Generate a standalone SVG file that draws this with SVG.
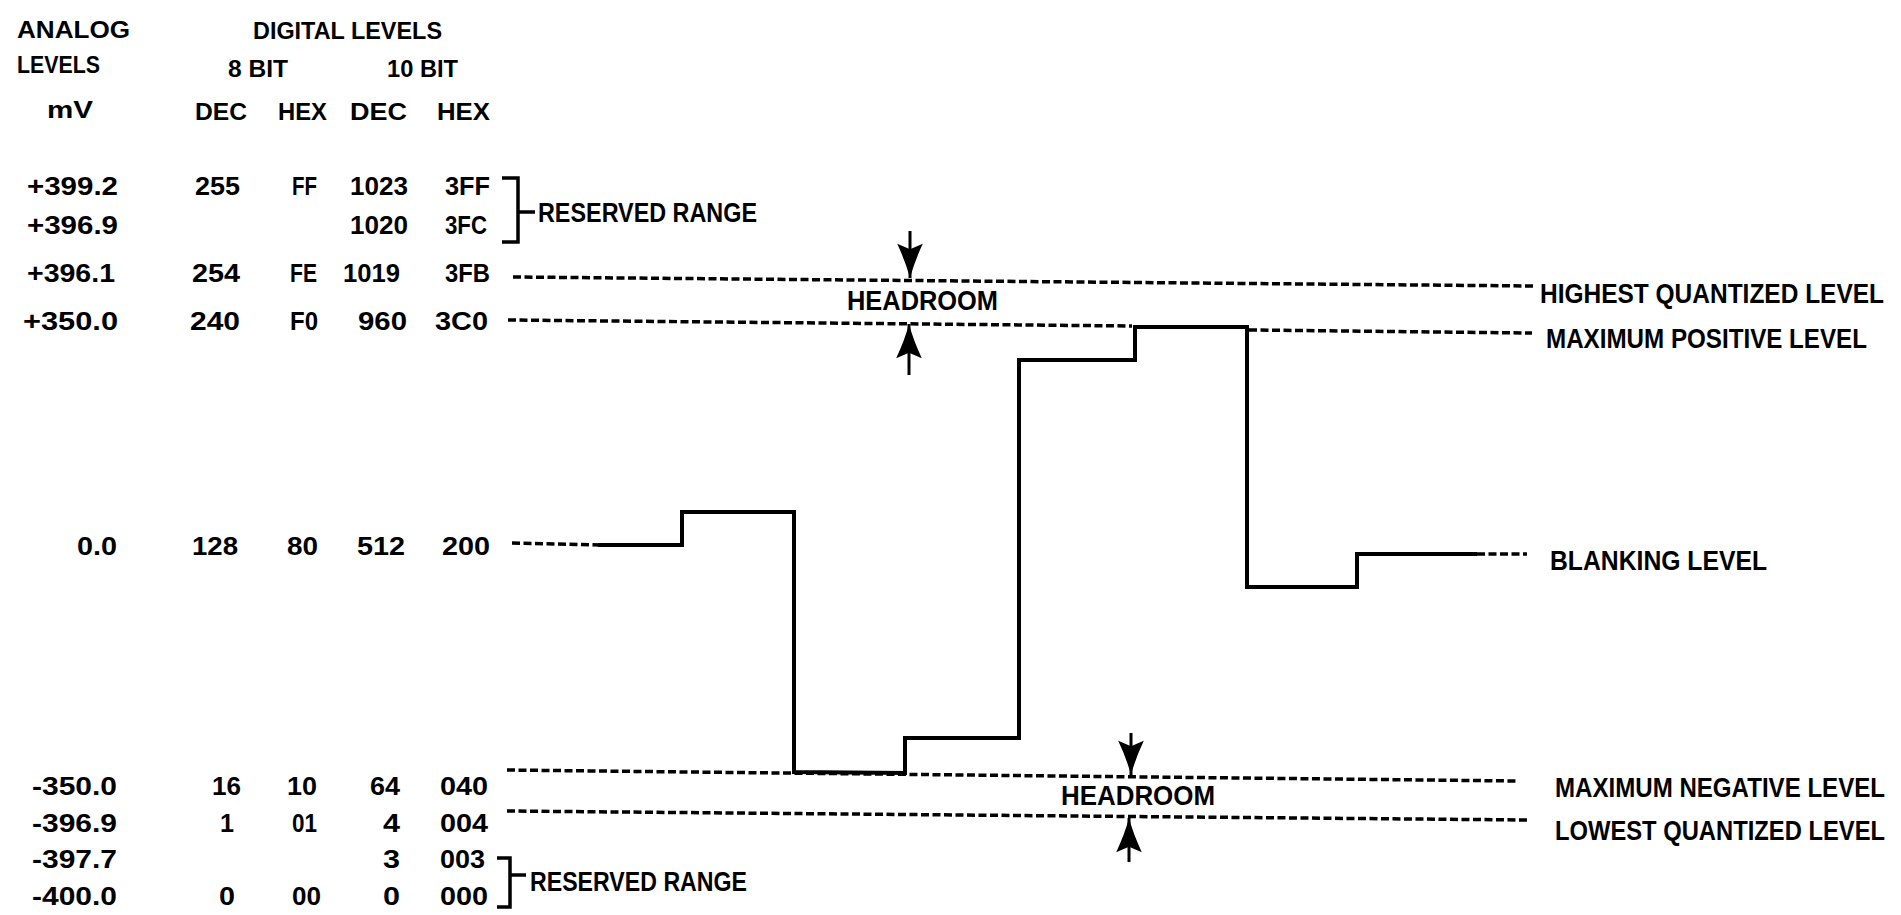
<svg xmlns="http://www.w3.org/2000/svg" width="1901" height="915" viewBox="0 0 1901 915">
<defs>
<style>
text{font-family:"Liberation Sans",Arial,sans-serif;fill:#000}
.h{font-size:23px;font-weight:bold}
.t{font-size:26px;font-weight:bold}
.l{font-size:27px;font-weight:bold}
.lab{font-size:24px;font-weight:bold}
.dash{fill:none;stroke:#000;stroke-width:3.5;stroke-dasharray:8 3.5}
.wave{fill:none;stroke:#000;stroke-width:4;stroke-linejoin:miter}
.br{fill:none;stroke:#000;stroke-width:3.5}
.shaft{fill:none;stroke:#000;stroke-width:3;marker-end:url(#ah)}
</style>
<marker id="ah" markerUnits="userSpaceOnUse" markerWidth="40" markerHeight="32" viewBox="-34 -15 36 30" refX="0" refY="0" orient="auto">
<path d="M0,0 Q-15,-4 -32,-12 L-27,0 L-32,12 Q-15,4 0,0 Z" fill="#000"/>
</marker>
</defs>
<rect width="1901" height="915" fill="#fff"/>

<g id="header">
<text class="h" x="17" y="38" textLength="113" lengthAdjust="spacingAndGlyphs">ANALOG</text>
<text class="h" x="17" y="73" textLength="83" lengthAdjust="spacingAndGlyphs">LEVELS</text>
<text class="h" x="47" y="118" textLength="46" lengthAdjust="spacingAndGlyphs">mV</text>
<text class="h" x="253" y="39" textLength="189" lengthAdjust="spacingAndGlyphs">DIGITAL LEVELS</text>
<text class="h" x="228" y="77" textLength="60" lengthAdjust="spacingAndGlyphs">8 BIT</text>
<text class="h" x="387" y="77" textLength="71" lengthAdjust="spacingAndGlyphs">10 BIT</text>
<text class="h" x="195" y="120" textLength="52" lengthAdjust="spacingAndGlyphs">DEC</text>
<text class="h" x="278" y="120" textLength="49" lengthAdjust="spacingAndGlyphs">HEX</text>
<text class="h" x="350" y="120" textLength="57" lengthAdjust="spacingAndGlyphs">DEC</text>
<text class="h" x="437" y="120" textLength="53" lengthAdjust="spacingAndGlyphs">HEX</text>
</g>

<g id="row-3FF">
<text class="t" x="27" y="195" textLength="91" lengthAdjust="spacingAndGlyphs">+399.2</text>
<text class="t" x="195" y="195" textLength="45" lengthAdjust="spacingAndGlyphs">255</text>
<text class="t" x="292" y="195" textLength="25" lengthAdjust="spacingAndGlyphs">FF</text>
<text class="t" x="350" y="195" textLength="58" lengthAdjust="spacingAndGlyphs">1023</text>
<text class="t" x="445" y="195" textLength="45" lengthAdjust="spacingAndGlyphs">3FF</text>
</g>
<g id="row-3FC">
<text class="t" x="27" y="234" textLength="91" lengthAdjust="spacingAndGlyphs">+396.9</text>
<text class="t" x="350" y="234" textLength="58" lengthAdjust="spacingAndGlyphs">1020</text>
<text class="t" x="445" y="234" textLength="42" lengthAdjust="spacingAndGlyphs">3FC</text>
</g>
<g id="row-3FB">
<text class="t" x="27" y="282" textLength="88" lengthAdjust="spacingAndGlyphs">+396.1</text>
<text class="t" x="192" y="282" textLength="48" lengthAdjust="spacingAndGlyphs">254</text>
<text class="t" x="290" y="282" textLength="27" lengthAdjust="spacingAndGlyphs">FE</text>
<text class="t" x="343" y="282" textLength="57" lengthAdjust="spacingAndGlyphs">1019</text>
<text class="t" x="445" y="282" textLength="45" lengthAdjust="spacingAndGlyphs">3FB</text>
</g>
<g id="row-3C0">
<text class="t" x="23" y="330" textLength="95" lengthAdjust="spacingAndGlyphs">+350.0</text>
<text class="t" x="190" y="330" textLength="50" lengthAdjust="spacingAndGlyphs">240</text>
<text class="t" x="290" y="330" textLength="28" lengthAdjust="spacingAndGlyphs">F0</text>
<text class="t" x="358" y="330" textLength="49" lengthAdjust="spacingAndGlyphs">960</text>
<text class="t" x="435" y="330" textLength="53" lengthAdjust="spacingAndGlyphs">3C0</text>
</g>
<g id="row-200">
<text class="t" x="77" y="555" textLength="40" lengthAdjust="spacingAndGlyphs">0.0</text>
<text class="t" x="192" y="555" textLength="46" lengthAdjust="spacingAndGlyphs">128</text>
<text class="t" x="287" y="555" textLength="31" lengthAdjust="spacingAndGlyphs">80</text>
<text class="t" x="357" y="555" textLength="48" lengthAdjust="spacingAndGlyphs">512</text>
<text class="t" x="442" y="555" textLength="48" lengthAdjust="spacingAndGlyphs">200</text>
</g>
<g id="row-040">
<text class="t" x="32" y="795" textLength="85" lengthAdjust="spacingAndGlyphs">-350.0</text>
<text class="t" x="212" y="795" textLength="29" lengthAdjust="spacingAndGlyphs">16</text>
<text class="t" x="287" y="795" textLength="30" lengthAdjust="spacingAndGlyphs">10</text>
<text class="t" x="370" y="795" textLength="30" lengthAdjust="spacingAndGlyphs">64</text>
<text class="t" x="440" y="795" textLength="48" lengthAdjust="spacingAndGlyphs">040</text>
</g>
<g id="row-004">
<text class="t" x="32" y="832" textLength="85" lengthAdjust="spacingAndGlyphs">-396.9</text>
<text class="t" x="220" y="832" textLength="14" lengthAdjust="spacingAndGlyphs">1</text>
<text class="t" x="292" y="832" textLength="25" lengthAdjust="spacingAndGlyphs">01</text>
<text class="t" x="383" y="832" textLength="17" lengthAdjust="spacingAndGlyphs">4</text>
<text class="t" x="440" y="832" textLength="48" lengthAdjust="spacingAndGlyphs">004</text>
</g>
<g id="row-003">
<text class="t" x="32" y="868" textLength="85" lengthAdjust="spacingAndGlyphs">-397.7</text>
<text class="t" x="383" y="868" textLength="17" lengthAdjust="spacingAndGlyphs">3</text>
<text class="t" x="440" y="868" textLength="45" lengthAdjust="spacingAndGlyphs">003</text>
</g>
<g id="row-000">
<text class="t" x="32" y="905" textLength="85" lengthAdjust="spacingAndGlyphs">-400.0</text>
<text class="t" x="219" y="905" textLength="16" lengthAdjust="spacingAndGlyphs">0</text>
<text class="t" x="292" y="905" textLength="29" lengthAdjust="spacingAndGlyphs">00</text>
<text class="t" x="383" y="905" textLength="17" lengthAdjust="spacingAndGlyphs">0</text>
<text class="t" x="440" y="905" textLength="48" lengthAdjust="spacingAndGlyphs">000</text>
</g>

<g id="reserved-upper">
<path class="br" d="M502,178 L518,178 L518,242 L502,242 M518,212 L535,212"/>
<text class="l" x="538" y="222" textLength="219" lengthAdjust="spacingAndGlyphs">RESERVED RANGE</text>
</g>
<g id="reserved-lower">
<path class="br" d="M497,858 L510,858 L510,907 L497,907 M510,875 L526,875"/>
<text class="l" x="530" y="891" textLength="217" lengthAdjust="spacingAndGlyphs">RESERVED RANGE</text>
</g>

<g id="connectors">
<line class="dash" x1="513" y1="277" x2="1534" y2="286"/>
<line class="dash" x1="508" y1="320" x2="1132" y2="326"/>
<line class="dash" x1="1249" y1="330" x2="1532" y2="333"/>
<line class="dash" x1="512" y1="543" x2="600" y2="545"/>
<line class="dash" x1="1477" y1="554" x2="1527" y2="554"/>
<line class="dash" x1="507" y1="770" x2="1518" y2="781"/>
<line class="dash" x1="507" y1="811" x2="1527" y2="820"/>
<path class="wave" d="M598,545 L682,545 L682,512 L794,512 L794,772 L905,773 L905,738 L1019,738 L1019,360 L1135,360 L1135,327 L1247,327 L1247,587 L1357,587 L1357,554 L1477,554"/>
<line class="shaft" x1="910" y1="231" x2="910" y2="278"/>
<line class="shaft" x1="909" y1="375" x2="909" y2="324"/>
<line class="shaft" x1="1131" y1="733" x2="1131" y2="775"/>
<line class="shaft" x1="1129" y1="862" x2="1129" y2="818"/>
</g>

<g id="headroom-upper">
<text class="l" x="847" y="310" textLength="151" lengthAdjust="spacingAndGlyphs">HEADROOM</text>
</g>
<g id="headroom-lower">
<text class="l" x="1061" y="805" textLength="154" lengthAdjust="spacingAndGlyphs">HEADROOM</text>
</g>

<g id="label-highest">
<text class="lab" transform="translate(1540 303) scale(1 1.12)" textLength="344" lengthAdjust="spacingAndGlyphs">HIGHEST QUANTIZED LEVEL</text>
</g>
<g id="label-maxpos">
<text class="lab" transform="translate(1546 348) scale(1 1.12)" textLength="321" lengthAdjust="spacingAndGlyphs">MAXIMUM POSITIVE LEVEL</text>
</g>
<g id="label-blanking">
<text class="lab" transform="translate(1550 570) scale(1 1.12)" textLength="217" lengthAdjust="spacingAndGlyphs">BLANKING  LEVEL</text>
</g>
<g id="label-maxneg">
<text class="lab" transform="translate(1555 797) scale(1 1.12)" textLength="330" lengthAdjust="spacingAndGlyphs">MAXIMUM NEGATIVE LEVEL</text>
</g>
<g id="label-lowest">
<text class="lab" transform="translate(1555 840) scale(1 1.12)" textLength="330" lengthAdjust="spacingAndGlyphs">LOWEST QUANTIZED LEVEL</text>
</g>
</svg>
